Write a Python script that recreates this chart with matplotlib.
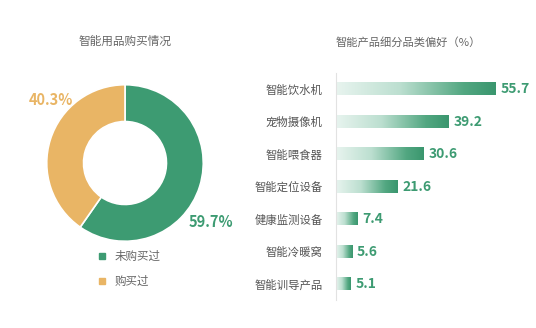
import numpy as np
import matplotlib
matplotlib.use('Agg')
import matplotlib.pyplot as plt
from matplotlib.colors import LinearSegmentedColormap
from matplotlib.lines import Line2D

plt.rcParams['font.family'] = ['Noto Sans CJK SC', 'DejaVu Sans']

# purchase share
buy_labels = ['未购买过', '购买过']
buy_share = [59.7, 40.3]

# category preference (%)
categories = ['智能饮水机', '宠物摄像机', '智能喂食器', '智能定位设备',
              '健康监测设备', '智能冷暖窝', '智能训导产品']
prefs = [55.7, 39.2, 30.6, 21.6, 7.4, 5.6, 5.1]

GREEN = '#3d9b72'
ORANGE = '#e9b565'
GREY = '#666666'

W, H = 536, 328
fig = plt.figure(figsize=(W / 100, H / 100), dpi=100)
fig.patch.set_facecolor('white')


def px_axes(left, top, width, height):
    return fig.add_axes([left / W, 1 - (top + height) / H, width / W, height / H])


# ---- donut ----
ax1 = px_axes(35, 73, 180, 180)
ax1.pie(buy_share, colors=[GREEN, ORANGE], startangle=90, counterclock=False,
        radius=1, wedgeprops=dict(width=0.47, edgecolor='white', linewidth=1.2))
ax1.set_xlim(-1.15, 1.15)
ax1.set_ylim(-1.15, 1.15)
ax1.set_aspect('equal')
ax1.axis('off')
ax1.text(1.10, -0.75, f'{buy_share[0]}%', color=GREEN, fontsize=10.5,
         fontweight='bold', ha='center', va='center')
ax1.text(-0.95, 0.80, f'{buy_share[1]}%', color=ORANGE, fontsize=10.5,
         fontweight='bold', ha='center', va='center')

fig.text(125 / W, 1 - 41 / H, '智能用品购买情况', color=GREY, fontsize=8.4,
         ha='center', va='center')

handles = [Line2D([], [], marker='s', linestyle='none', markersize=4,
                  color=c) for c in (GREEN, ORANGE)]
fig.legend(handles, buy_labels, loc='upper left',
           bbox_to_anchor=(90 / W, 1 - 244 / H), frameon=False,
           fontsize=8.3, labelcolor=GREY, handlelength=1.0,
           handletextpad=0.6, labelspacing=1.05, borderpad=0)

# ---- gradient bars ----
ax2 = px_axes(336, 72.75, 190, 227.5)
scale = 190 / 2.87

cmap = LinearSegmentedColormap.from_list(
    'bar', [(0, '#e8f4ef'), (0.4, '#bcdfd0'), (0.8, '#52a781'), (1, '#3a966e')])
grad = np.linspace(0, 1, 256).reshape(1, -1)
bar_h = 0.37
for i, v in enumerate(prefs):
    ax2.imshow(grad, cmap=cmap, aspect='auto', interpolation='bilinear',
               extent=[0, v, i + bar_h / 2, i - bar_h / 2], zorder=2)
    ax2.text(v + 1.7, i, f'{v}', color=GREEN, fontsize=10, fontweight='bold',
             ha='left', va='center')
ax2.set_xlim(0, scale)
ax2.set_ylim(len(categories) - 0.5, -0.5)

ax2.set_yticks(range(len(categories)))
ax2.set_yticklabels(categories, fontsize=8.2, color='#555555')
ax2.tick_params(axis='y', length=0, pad=9.5)
ax2.set_xticks([])
for s in ('top', 'right', 'bottom'):
    ax2.spines[s].set_visible(False)
ax2.spines['left'].set_color('#e2e2e2')
ax2.spines['left'].set_linewidth(0.8)

fig.text(408 / W, 1 - 42 / H, '智能产品细分品类偏好（%）', color=GREY,
         fontsize=8.1, ha='center', va='center')

fig.savefig('out.png', dpi=100, facecolor='white')
